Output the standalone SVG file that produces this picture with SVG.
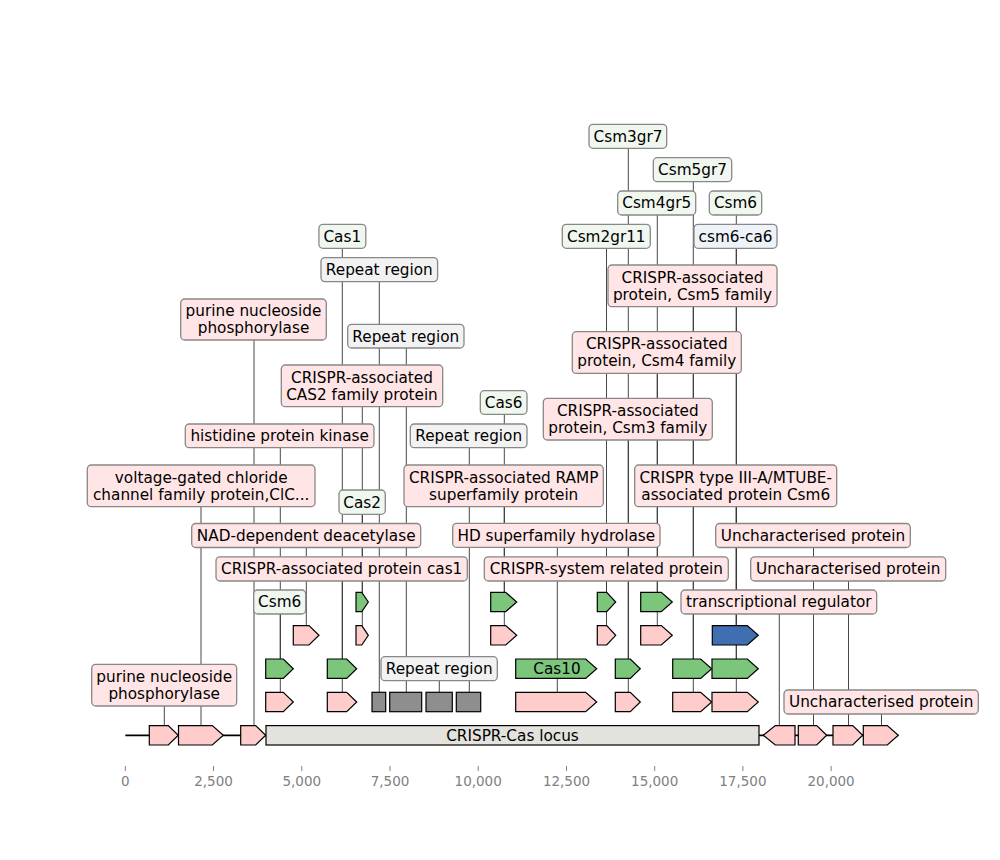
<svg xmlns="http://www.w3.org/2000/svg" width="1000" height="860" viewBox="0 0 1000 860">
<style>
text{font-family:"DejaVu Sans","Liberation Sans",sans-serif;font-size:15.28px;fill:#000;text-anchor:middle}
.ax{font-size:13.5px;fill:#808080}
.tk{stroke:#808080;stroke-width:1}
.cn line{stroke:#333;stroke-width:0.9}
.pk{fill:#ffcccc;stroke:#000;stroke-width:1.2}
.gn{fill:#7bc67b;stroke:#000;stroke-width:1.2}
.bl{fill:#3f6fb0;stroke:#000;stroke-width:1.2}
.gy{fill:#8e8e8e;stroke:#000;stroke-width:1.2}
.lc{fill:#e3e2dd;stroke:#000;stroke-width:1.2}
.lp{fill:#ffe5e5;stroke:#888;stroke-width:1.3}
.lg{fill:#eff7ee;stroke:#888;stroke-width:1.3}
.lr{fill:#f2f2f2;stroke:#888;stroke-width:1.3}
.lb{fill:#eef2f9;stroke:#888;stroke-width:1.3}
</style>
<rect width="1000" height="860" fill="#fff"/>
<g id="axis">
<line class="tk" x1="125.3" y1="766" x2="125.3" y2="771"/><text class="ax" x="125.3" y="786">0</text>
<line class="tk" x1="213.5" y1="766" x2="213.5" y2="771"/><text class="ax" x="213.5" y="786">2,500</text>
<line class="tk" x1="301.8" y1="766" x2="301.8" y2="771"/><text class="ax" x="301.8" y="786">5,000</text>
<line class="tk" x1="390" y1="766" x2="390" y2="771"/><text class="ax" x="390" y="786">7,500</text>
<line class="tk" x1="478.2" y1="766" x2="478.2" y2="771"/><text class="ax" x="478.2" y="786">10,000</text>
<line class="tk" x1="566.5" y1="766" x2="566.5" y2="771"/><text class="ax" x="566.5" y="786">12,500</text>
<line class="tk" x1="654.7" y1="766" x2="654.7" y2="771"/><text class="ax" x="654.7" y="786">15,000</text>
<line class="tk" x1="742.9" y1="766" x2="742.9" y2="771"/><text class="ax" x="742.9" y="786">17,500</text>
<line class="tk" x1="831.1" y1="766" x2="831.1" y2="771"/><text class="ax" x="831.1" y="786">20,000</text>
</g>
<g id="connectors" class="cn">
<line x1="164.3" y1="706" x2="164.3" y2="725.6"/>
<line x1="201" y1="506.7" x2="201" y2="725.6"/>
<line x1="254" y1="340" x2="254" y2="725.6"/>
<line x1="280.3" y1="447.7" x2="280.3" y2="692.3"/>
<line x1="280.3" y1="614" x2="280.3" y2="659"/>
<line x1="306.3" y1="548" x2="306.3" y2="625.6"/>
<line x1="342.3" y1="581" x2="342.3" y2="692.3"/>
<line x1="342.3" y1="248.3" x2="342.3" y2="659"/>
<line x1="362.3" y1="406.7" x2="362.3" y2="625.6"/>
<line x1="362.3" y1="514.3" x2="362.3" y2="592.3"/>
<line x1="379.3" y1="281.6" x2="379.3" y2="692.3"/>
<line x1="406.3" y1="348" x2="406.3" y2="692.3"/>
<line x1="439.3" y1="680.7" x2="439.3" y2="692.3"/>
<line x1="469.3" y1="447.7" x2="469.3" y2="692.3"/>
<line x1="504.3" y1="506.7" x2="504.3" y2="625.6"/>
<line x1="504.3" y1="414.3" x2="504.3" y2="592.3"/>
<line x1="557.3" y1="547.3" x2="557.3" y2="692.3"/>
<line x1="606.5" y1="581" x2="606.5" y2="625.6"/>
<line x1="606.5" y1="248.3" x2="606.5" y2="592.3"/>
<line x1="628.3" y1="440" x2="628.3" y2="692.3"/>
<line x1="628.3" y1="148.3" x2="628.3" y2="659"/>
<line x1="657.3" y1="373.3" x2="657.3" y2="625.6"/>
<line x1="657.3" y1="215" x2="657.3" y2="592.3"/>
<line x1="693.3" y1="306.7" x2="693.3" y2="692.3"/>
<line x1="693.3" y1="181.7" x2="693.3" y2="659"/>
<line x1="736.3" y1="506.7" x2="736.3" y2="692.3"/>
<line x1="736.3" y1="215" x2="736.3" y2="659"/>
<line x1="736.3" y1="248.3" x2="736.3" y2="625.6"/>
<line x1="779.3" y1="614" x2="779.3" y2="725.6"/>
<line x1="813.5" y1="547.5" x2="813.5" y2="725.6"/>
<line x1="848.5" y1="581" x2="848.5" y2="725.6"/>
<line x1="881.5" y1="714" x2="881.5" y2="725.6"/>
</g>
<g id="genome-line"><line x1="125.3" y1="735.3" x2="898.3" y2="735.3" stroke="#000" stroke-width="1.8"/></g>
<g id="f-b1"><polygon class="pk" points="149.3,725.6 168.3,725.6 178.3,735.3 168.3,745 149.3,745"/>
<rect class="lp" x="91.7" y="664.3" width="145" height="41.7" rx="4"/><text x="164.2" y="682">purine nucleoside</text><text x="164.2" y="699">phosphorylase</text></g>
<g id="f-b2"><polygon class="pk" points="178.5,725.6 212.3,725.6 223.3,735.3 212.3,745 178.5,745"/>
<rect class="lp" x="87.3" y="465" width="227.7" height="41.7" rx="4"/><text x="201.2" y="482.6">voltage-gated chloride</text><text x="201.2" y="499.6">channel family protein,ClC...</text></g>
<g id="f-b3"><polygon class="pk" points="240.7,725.6 255.7,725.6 265.7,735.3 255.7,745 240.7,745"/>
<rect class="lp" x="180.7" y="299" width="145.6" height="41" rx="4"/><text x="253.5" y="316.3">purine nucleoside</text><text x="253.5" y="333.3">phosphorylase</text></g>
<g id="locus"><rect class="lc" x="266" y="725.6" width="493" height="19.4"/><text x="512.5" y="740.6">CRISPR-Cas locus</text></g>
<g id="f-b4"><polygon class="pk" points="763.3,735.3 775.3,725.6 795,725.6 795,745 775.3,745"/>
<rect class="lp" x="681" y="590" width="195.7" height="24" rx="4"/><text x="778.8" y="607.3">transcriptional regulator</text></g>
<g id="f-b5"><polygon class="pk" points="798.3,725.6 816.7,725.6 826.7,735.3 816.7,745 798.3,745"/>
<rect class="lp" x="715.7" y="523.5" width="194.6" height="24" rx="4"/><text x="813" y="540.8">Uncharacterised protein</text></g>
<g id="f-b6"><polygon class="pk" points="833,725.6 852.7,725.6 862.7,735.3 852.7,745 833,745"/>
<rect class="lp" x="750.7" y="556.8" width="195" height="24.2" rx="4"/><text x="848.2" y="574.3">Uncharacterised protein</text></g>
<g id="f-b7"><polygon class="pk" points="863.3,725.6 887.3,725.6 898.3,735.3 887.3,745 863.3,745"/>
<rect class="lp" x="784" y="690" width="194.3" height="24" rx="4"/><text x="881.2" y="707.3">Uncharacterised protein</text></g>
<g id="f-p1a"><polygon class="pk" points="265.7,692.3 283.3,692.3 293.3,702 283.3,711.7 265.7,711.7"/>
<rect class="lp" x="185.3" y="424" width="188.7" height="23.7" rx="4"/><text x="279.7" y="441.2">histidine protein kinase</text></g>
<g id="f-g2a"><polygon class="gn" points="265.7,659 283.3,659 293.3,668.7 283.3,678.4 265.7,678.4"/>
<rect class="lg" x="253.7" y="590" width="52" height="24" rx="4"/><text x="279.7" y="607.3">Csm6</text></g>
<g id="f-p3a"><polygon class="pk" points="293.3,625.6 309,625.6 319,635.3 309,645 293.3,645"/>
<rect class="lp" x="191.7" y="523.5" width="229" height="24" rx="4"/><text x="306.2" y="540.9">NAD-dependent deacetylase</text></g>
<g id="f-p1b"><polygon class="pk" points="327.3,692.3 346.7,692.3 356.7,702 346.7,711.7 327.3,711.7"/>
<rect class="lp" x="216" y="556.8" width="251.3" height="24.2" rx="4"/><text x="341.7" y="574.3">CRISPR-associated protein cas1</text></g>
<g id="f-g2b"><polygon class="gn" points="327.3,659 346.7,659 356.7,668.7 346.7,678.4 327.3,678.4"/>
<rect class="lg" x="318.9" y="224.3" width="46.9" height="24" rx="4"/><text x="342.3" y="241.6">Cas1</text></g>
<g id="f-p3b"><polygon class="pk" points="356,625.6 361.8,625.6 368.3,635.3 361.8,645 356,645"/>
<rect class="lp" x="281.3" y="365" width="161.4" height="41.7" rx="4"/><text x="362" y="382.6">CRISPR-associated</text><text x="362" y="399.6">CAS2 family protein</text></g>
<g id="f-g4a"><polygon class="gn" points="356,592.3 361.8,592.3 368.3,602 361.8,611.7 356,611.7"/>
<rect class="lg" x="339" y="490" width="46.3" height="24.3" rx="4"/><text x="362.2" y="507.5">Cas2</text></g>
<g id="f-r1"><rect class="gy" x="372" y="692.3" width="13.7" height="19.4"/>
<rect class="lr" x="321" y="257.6" width="116.6" height="24" rx="4"/><text x="379.3" y="274.9">Repeat region</text></g>
<g id="f-r2"><rect class="gy" x="389.7" y="692.3" width="32" height="19.4"/>
<rect class="lr" x="347.7" y="324.3" width="116.3" height="23.7" rx="4"/><text x="405.8" y="341.5">Repeat region</text></g>
<g id="f-r3"><rect class="gy" x="426" y="692.3" width="26.3" height="19.4"/>
<rect class="lr" x="381" y="656.7" width="116.3" height="24" rx="4"/><text x="439.2" y="674">Repeat region</text></g>
<g id="f-r4"><rect class="gy" x="456.3" y="692.3" width="24.4" height="19.4"/>
<rect class="lr" x="410.3" y="424" width="116.7" height="23.7" rx="4"/><text x="468.7" y="441.2">Repeat region</text></g>
<g id="f-p3c"><polygon class="pk" points="490.7,625.6 505.7,625.6 516.7,635.3 505.7,645 490.7,645"/>
<rect class="lp" x="404" y="465" width="199.3" height="41.7" rx="4"/><text x="503.7" y="482.6">CRISPR-associated RAMP</text><text x="503.7" y="499.6">superfamily protein</text></g>
<g id="f-g4b"><polygon class="gn" points="490.7,592.3 505.7,592.3 516.7,602 505.7,611.7 490.7,611.7"/>
<rect class="lg" x="480.3" y="390.7" width="46.7" height="23.6" rx="4"/><text x="503.7" y="407.8">Cas6</text></g>
<g id="f-p1c"><polygon class="pk" points="515.7,692.3 585.7,692.3 596.7,702 585.7,711.7 515.7,711.7"/>
<rect class="lp" x="452.7" y="523.3" width="207.3" height="24" rx="4"/><text x="556.3" y="540.6">HD superfamily hydrolase</text></g>
<g id="f-cas10"><polygon class="gn" points="515.7,659 585.7,659 596.7,668.7 585.7,678.4 515.7,678.4"/><text x="557" y="674">Cas10</text></g>
<g id="f-p3d"><polygon class="pk" points="597.3,625.6 606.7,625.6 615.7,635.3 606.7,645 597.3,645"/>
<rect class="lp" x="484.3" y="556.8" width="244" height="24.2" rx="4"/><text x="606.3" y="574.3">CRISPR-system related protein</text></g>
<g id="f-g4c"><polygon class="gn" points="597.3,592.3 606.7,592.3 615.7,602 606.7,611.7 597.3,611.7"/>
<rect class="lg" x="562.3" y="224.3" width="88" height="24" rx="4"/><text x="606.3" y="241.6">Csm2gr11</text></g>
<g id="f-p1d"><polygon class="pk" points="615.3,692.3 630.3,692.3 640.3,702 630.3,711.7 615.3,711.7"/>
<rect class="lp" x="543.3" y="398.3" width="169" height="41.7" rx="4"/><text x="627.8" y="416">CRISPR-associated</text><text x="627.8" y="433">protein, Csm3 family</text></g>
<g id="f-g2d"><polygon class="gn" points="615.3,659 630.3,659 640.3,668.7 630.3,678.4 615.3,678.4"/>
<rect class="lg" x="589" y="124.3" width="77.7" height="24" rx="4"/><text x="628" y="141.6">Csm3gr7</text></g>
<g id="f-p3e"><polygon class="pk" points="640.7,625.6 661.3,625.6 672.3,635.3 661.3,645 640.7,645"/>
<rect class="lp" x="572.3" y="331.7" width="169" height="41.7" rx="4"/><text x="656.8" y="349.3">CRISPR-associated</text><text x="656.8" y="366.3">protein, Csm4 family</text></g>
<g id="f-g4d"><polygon class="gn" points="640.7,592.3 661.3,592.3 672.3,602 661.3,611.7 640.7,611.7"/>
<rect class="lg" x="617.7" y="191" width="78" height="24" rx="4"/><text x="656.7" y="208.3">Csm4gr5</text></g>
<g id="f-p1e"><polygon class="pk" points="672.7,692.3 700.7,692.3 711.7,702 700.7,711.7 672.7,711.7"/>
<rect class="lp" x="608" y="265" width="169" height="41.7" rx="4"/><text x="692.5" y="282.6">CRISPR-associated</text><text x="692.5" y="299.6">protein, Csm5 family</text></g>
<g id="f-g2e"><polygon class="gn" points="672.7,659 700.7,659 711.7,668.7 700.7,678.4 672.7,678.4"/>
<rect class="lg" x="653.3" y="157.7" width="78.4" height="24" rx="4"/><text x="692.5" y="175">Csm5gr7</text></g>
<g id="f-p1f"><polygon class="pk" points="712,692.3 747.3,692.3 758.3,702 747.3,711.7 712,711.7"/>
<rect class="lp" x="634.7" y="465" width="202" height="41.7" rx="4"/><text x="735.7" y="482.6">CRISPR type III-A/MTUBE-</text><text x="735.7" y="499.6">associated protein Csm6</text></g>
<g id="f-g2f"><polygon class="gn" points="712,659 747.3,659 758.3,668.7 747.3,678.4 712,678.4"/>
<rect class="lg" x="709.3" y="191" width="52.4" height="24" rx="4"/><text x="735.5" y="208.3">Csm6</text></g>
<g id="f-blue"><polygon class="bl" points="712.3,625.6 747.3,625.6 758.3,635.3 747.3,645 712.3,645"/>
<rect class="lb" x="694" y="224.3" width="83" height="24" rx="4"/><text x="735.5" y="241.6">csm6-ca6</text></g>
</svg>
